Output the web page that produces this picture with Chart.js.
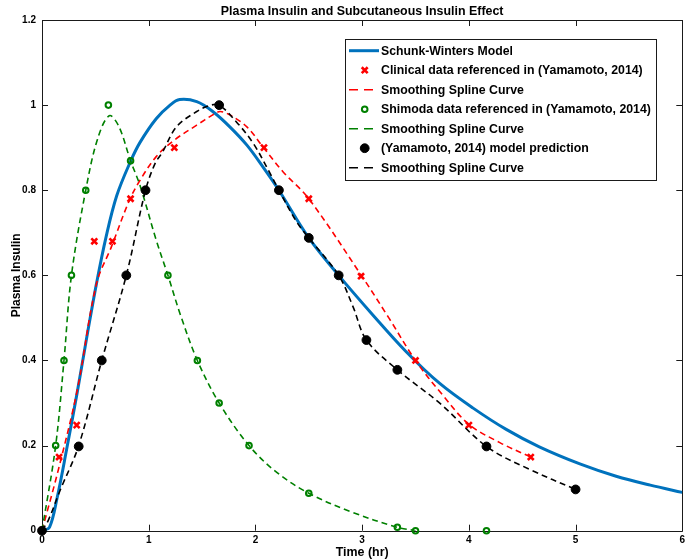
<!DOCTYPE html>
<html><head><meta charset="utf-8">
<script src="https://cdn.jsdelivr.net/npm/chart.js@4/dist/chart.umd.min.js"></script>
<style>html,body{margin:0;padding:0;background:#fff}#wrap{position:relative;width:697px;height:560px}</style>
</head><body><div id="wrap"><canvas id="c" width="697" height="560"></canvas></div>
<script>
const titleText = "Plasma Insulin and Subcutaneous Insulin Effect";
const xAxisLabel = "Time (hr)";
const yAxisLabel = "Plasma Insulin";
const xTicks = [0, 1, 2, 3, 4, 5, 6];
const xTickLabels = ["0", "1", "2", "3", "4", "5", "6"];
const yTicks = [0, 0.2, 0.4, 0.6, 0.8, 1, 1.2];
const yTickLabels = ["0", "0.2", "0.4", "0.6", "0.8", "1", "1.2"];

const seriesNames = [
  "Schunk-Winters Model",
  "Clinical data referenced in (Yamamoto, 2014)",
  "Smoothing Spline Curve",
  "Shimoda data referenced in (Yamamoto, 2014)",
  "Smoothing Spline Curve",
  "(Yamamoto, 2014) model prediction",
  "Smoothing Spline Curve"
];

// Schunk-Winters model curve
const modelX = [0, 0.07, 0.14, 0.23, 0.33, 0.42, 0.51, 0.60, 0.70, 0.83, 0.92, 1.07, 1.2, 1.29, 1.45, 1.60, 1.76, 1.92, 2.07, 2.22, 2.5, 2.78, 3.1, 3.415, 3.727, 4.04, 4.35, 4.66, 5.04, 5.38, 5.70, 6.0];
const modelY = [0, 0.008, 0.075, 0.19, 0.325, 0.455, 0.58, 0.69, 0.787, 0.868, 0.913, 0.968, 1.0, 1.013, 1.008, 0.985, 0.949, 0.906, 0.855, 0.80, 0.688, 0.60, 0.507, 0.42, 0.346, 0.288, 0.238, 0.197, 0.157, 0.128, 0.107, 0.09];

// Clinical data (red x) and its spline
const clinicalX = [0, 0.16, 0.325, 0.49, 0.66, 0.83, 1.24, 2.08, 2.5, 2.99, 3.5, 4.0, 4.58];
const clinicalY = [0, 0.173, 0.248, 0.68, 0.68, 0.78, 0.90, 0.90, 0.78, 0.598, 0.40, 0.248, 0.173];
const clinicalSplineX = [0, 0.16, 0.33, 0.51, 0.65, 0.82, 0.92, 1.07, 1.23, 1.45, 1.6, 1.67, 1.76, 1.92, 2.07, 2.26, 2.5, 3.0, 3.25, 3.5, 3.75, 4.0, 4.29, 4.58];
const clinicalSplineY = [0, 0.15, 0.33, 0.58, 0.667, 0.777, 0.824, 0.879, 0.916, 0.953, 0.977, 0.985, 0.977, 0.949, 0.902, 0.843, 0.78, 0.597, 0.50, 0.40, 0.32, 0.25, 0.207, 0.173];

// Shimoda data (green o) and its spline
const shimodaX = [0, 0.128, 0.206, 0.276, 0.41, 0.622, 0.83, 1.18, 1.456, 1.66, 1.94, 2.5, 3.33, 3.5, 4.165];
const shimodaY = [0, 0.2, 0.4, 0.6, 0.8, 1.0, 0.869, 0.6, 0.4, 0.3, 0.2, 0.088, 0.008, 0, 0];
const shimodaSplineX = [0, 0.128, 0.206, 0.276, 0.41, 0.52, 0.63, 0.72, 0.83, 0.92, 1.07, 1.18, 1.3, 1.456, 1.66, 1.94, 2.2, 2.5, 2.9, 3.33, 3.5];
const shimodaSplineY = [0, 0.2, 0.4, 0.6, 0.8, 0.92, 0.975, 0.95, 0.869, 0.81, 0.683, 0.6, 0.505, 0.4, 0.3, 0.2, 0.137, 0.088, 0.044, 0.008, 0];

// Yamamoto model prediction (black dots) and its spline
const yamamotoX = [0, 0.344, 0.56, 0.79, 0.97, 1.66, 2.22, 2.5, 2.78, 3.04, 3.33, 4.165, 5.0];
const yamamotoY = [0, 0.198, 0.40, 0.60, 0.80, 1.0, 0.80, 0.688, 0.60, 0.448, 0.378, 0.198, 0.097];
const yamamotoSplineX = [0, 0.06, 0.17, 0.344, 0.56, 0.79, 0.97, 1.06, 1.13, 1.26, 1.45, 1.57, 1.66, 1.82, 1.98, 2.13, 2.22, 2.385, 2.5, 2.78, 2.915, 3.04, 3.33, 3.73, 4.165, 4.57, 5.0];
const yamamotoSplineY = [0, 0.025, 0.095, 0.2, 0.4, 0.6, 0.8, 0.863, 0.89, 0.949, 0.985, 0.999, 1.0, 0.961, 0.91, 0.843, 0.8, 0.726, 0.688, 0.6, 0.526, 0.448, 0.378, 0.299, 0.198, 0.144, 0.097];

const pts = (xs, ys) => xs.map((x, i) => ({ x: x, y: ys[i] }));
const BLUE = '#0072BD', RED = '#FF0000', GREEN = '#008000', BLACK = '#000000';
const FONT = '"Liberation Sans", Arial, sans-serif';
const DASH = [6, 4];
const TENSION = 0.35;

const datasets = [
  { label: seriesNames[0], data: pts(modelX, modelY), borderColor: BLUE, borderWidth: 3, pointRadius: 0, showLine: true, tension: TENSION, order: 7, _kind: 'solid' },
  { label: seriesNames[1], data: pts(clinicalX, clinicalY), showLine: false, pointStyle: 'crossRot', pointRadius: 4.2, pointBorderWidth: 2.6, borderColor: RED, backgroundColor: RED, order: 6, clip: false, _kind: 'marker' },
  { label: seriesNames[2], data: pts(clinicalSplineX, clinicalSplineY), borderColor: RED, borderWidth: 1.6, borderDash: DASH, pointRadius: 0, showLine: true, tension: TENSION, order: 5, _kind: 'dash' },
  { label: seriesNames[3], data: pts(shimodaX, shimodaY), showLine: false, pointStyle: 'circle', pointRadius: 2.8, pointBorderWidth: 2, borderColor: GREEN, backgroundColor: 'rgba(255,255,255,0)', order: 4, clip: false, _kind: 'marker' },
  { label: seriesNames[4], data: pts(shimodaSplineX, shimodaSplineY), borderColor: GREEN, borderWidth: 1.6, borderDash: DASH, pointRadius: 0, showLine: true, tension: TENSION, order: 3, _kind: 'dash' },
  { label: seriesNames[5], data: pts(yamamotoX, yamamotoY), showLine: false, pointStyle: 'circle', pointRadius: 4.4, pointBorderWidth: 1, borderColor: BLACK, backgroundColor: BLACK, order: 2, clip: false, _kind: 'marker' },
  { label: seriesNames[6], data: pts(yamamotoSplineX, yamamotoSplineY), borderColor: BLACK, borderWidth: 1.6, borderDash: DASH, pointRadius: 0, showLine: true, tension: TENSION, order: 1, _kind: 'dash' }
];

function fitFont(ctx, text, target, base) {
  ctx.font = 'bold ' + base + 'px ' + FONT;
  const w = ctx.measureText(text).width;
  const s = Math.max(9, Math.min(14, base * target / w));
  return 'bold ' + s.toFixed(2) + 'px ' + FONT;
}

const framePlugin = {
  id: 'frame',
  beforeDatasetsDraw(chart) {
    const { ctx, chartArea: a, scales } = chart;
    ctx.save();
    ctx.strokeStyle = '#1a1a1a';
    ctx.lineWidth = 1;
    ctx.beginPath();
    ctx.rect(Math.round(a.left) + 0.5, Math.round(a.top) + 0.5, Math.round(a.right - a.left), Math.round(a.bottom - a.top));
    const tl = 6;
    xTicks.forEach(v => {
      const px = Math.round(scales.x.getPixelForValue(v)) + 0.5;
      ctx.moveTo(px, a.bottom); ctx.lineTo(px, a.bottom - tl);
      ctx.moveTo(px, a.top); ctx.lineTo(px, a.top + tl);
    });
    yTicks.forEach(v => {
      const py = Math.round(scales.y.getPixelForValue(v)) + 0.5;
      ctx.moveTo(a.left, py); ctx.lineTo(a.left + tl, py);
      ctx.moveTo(a.right, py); ctx.lineTo(a.right - tl, py);
    });
    ctx.stroke();
    ctx.restore();
  },
  afterDraw(chart) {
    const { ctx, chartArea: a } = chart;
    ctx.save();
    ctx.fillStyle = '#000';
    ctx.font = fitFont(ctx, titleText, 283, 12);
    ctx.textAlign = 'center'; ctx.textBaseline = 'alphabetic';
    ctx.fillText(titleText, (a.left + a.right) / 2, 15);
    ctx.font = fitFont(ctx, xAxisLabel, 53, 12);
    ctx.fillText(xAxisLabel, (a.left + a.right) / 2, 555.5);
    ctx.save();
    ctx.translate(20, (a.top + a.bottom) / 2);
    ctx.rotate(-Math.PI / 2);
    ctx.font = fitFont(ctx, yAxisLabel, 84, 12);
    ctx.fillText(yAxisLabel, 0, 0);
    ctx.restore();

    // legend box
    const bx = 345.5, by = 39.5, bw = 311, bh = 141;
    ctx.fillStyle = '#fff';
    ctx.fillRect(bx, by, bw, bh);
    ctx.strokeStyle = '#1a1a1a'; ctx.lineWidth = 1;
    ctx.strokeRect(bx, by, bw, bh);
    const legendWidths = [132, 262, 143, 270, 143, 208, 143];
    const lx0 = 349, lx1 = 379, mx = 364.7, tx = 381;
    datasets.forEach((d, i) => {
      const cy = 50.7 + i * 19.5;
      ctx.save();
      if (d._kind === 'solid' || d._kind === 'dash') {
        ctx.strokeStyle = d.borderColor;
        ctx.lineWidth = d.borderWidth;
        ctx.setLineDash(d._kind === 'dash' ? [9, 6] : []);
        ctx.beginPath(); ctx.moveTo(lx0, cy); ctx.lineTo(lx1, cy); ctx.stroke();
      } else {
        ctx.strokeStyle = d.borderColor; ctx.fillStyle = d.backgroundColor;
        ctx.lineWidth = d.pointBorderWidth;
        Chart.helpers.drawPoint(ctx, { pointStyle: d.pointStyle, radius: d.pointRadius, rotation: 0, borderWidth: d.pointBorderWidth }, mx, cy);
      }
      ctx.restore();
      ctx.fillStyle = '#000';
      ctx.font = fitFont(ctx, d.label, legendWidths[i], 12);
      ctx.textAlign = 'left'; ctx.textBaseline = 'middle';
      ctx.fillText(d.label, tx, cy + 0.5);
    });
    ctx.restore();
  }
};

new Chart(document.getElementById('c'), {
  type: 'line',
  data: { datasets: datasets },
  options: {
    responsive: false,
    animation: false,
    devicePixelRatio: 1,
    layout: { padding: { left: 0, right: 14.7, top: 20, bottom: 0 } },
    plugins: { legend: { display: false }, tooltip: { enabled: false }, title: { display: false } },
    elements: { line: { fill: false } },
    scales: {
      x: {
        type: 'linear', min: 0, max: 6,
        afterBuildTicks: s => { s.ticks = xTicks.map(v => ({ value: v })); },
        afterFit: s => { s.height = 29.3; },
        grid: { display: false, drawTicks: false },
        border: { display: false },
        ticks: { callback: (v) => xTickLabels[xTicks.indexOf(v)], font: { family: FONT, size: 10, weight: 'bold' }, color: '#000', padding: 4, maxRotation: 0, autoSkip: false }
      },
      y: {
        type: 'linear', min: 0, max: 1.2,
        afterBuildTicks: s => { s.ticks = yTicks.map(v => ({ value: v })); },
        afterFit: s => { s.width = 42; },
        grid: { display: false, drawTicks: false },
        border: { display: false },
        ticks: { callback: (v) => yTickLabels[yTicks.findIndex(t => Math.abs(t - v) < 1e-9)], font: { family: FONT, size: 10, weight: 'bold' }, color: '#000', padding: 6, autoSkip: false }
      }
    }
  },
  plugins: [framePlugin]
});
</script></body></html>
